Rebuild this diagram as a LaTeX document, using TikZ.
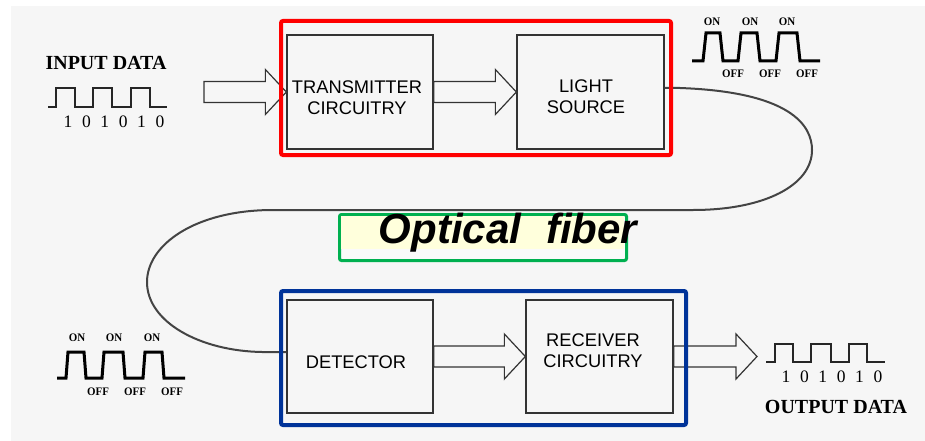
\documentclass[tikz,border=0pt]{standalone}
\usepackage{fontspec}
\setmainfont{Liberation Serif}
\setsansfont{Liberation Sans}
\usetikzlibrary{calc}
\definecolor{bggray}{HTML}{F6F6F6}
\definecolor{boxline}{HTML}{333333}
\definecolor{fibercol}{HTML}{444444}
\definecolor{redframe}{HTML}{FF0000}
\definecolor{blueframe}{HTML}{003399}
\definecolor{greenframe}{HTML}{00B050}
\definecolor{labelyellow}{HTML}{FFFFDC}
\newcommand{\fatarrow}[2]{%
  \draw[arrowline] let \p1=(#1), \p2=(#2) in
    (\x1,\y1+10.5pt) -- (\x2-21pt,\y1+10.5pt) -- (\x2-21pt,\y1+22.5pt) --
    (\x2,\y1) -- (\x2-21pt,\y1-22.5pt) -- (\x2-21pt,\y1-10.5pt) --
    (\x1,\y1-10.5pt) -- cycle;}
\begin{document}
\begin{tikzpicture}[x=1pt,y=-1pt,
  blockbox/.style={draw=boxline, line width=1.3pt, fill=bggray, inner sep=0pt,
    minimum width=146pt, minimum height=114pt},
  blocktext/.style={align=center, inner sep=0pt,
    font=\sffamily\fontsize{18.3}{21}\selectfont},
  arrowline/.style={draw=boxline, line width=1.2pt, fill=bggray, line join=miter},
  frame/.style={line width=4pt, rounded corners=2pt, inner sep=0pt, fill=none},
  thickwave/.style={line width=3pt, black, line join=miter},
  thinwave/.style={line width=1.5pt, black!85},
  onoff/.style={inner sep=0pt, font=\bfseries\fontsize{11.5}{11}\selectfont, xscale=0.95},
  digit/.style={inner sep=0pt, font=\fontsize{17.5}{17}\selectfont},
  datatitle/.style={inner sep=0pt, font=\bfseries\fontsize{20}{20}\selectfont},
  fiber/.style={line width=2pt, fibercol}]
\useasboundingbox (0,0) rectangle (925,441);
\fill[white] (0,0) rectangle (925,441);
\fill[bggray] (11,6) rectangle (925,441);

% blocks
\node[blockbox] (tx) at (360,92) {};
\node[blockbox, minimum width=147pt] (ls) at (590.5,92) {};
\node[blockbox, minimum height=113pt] (det) at (360,356.5) {};
\node[blockbox, minimum width=147pt, minimum height=113pt] (rx) at (599.5,356.5) {};
\node[blocktext] (txl) at (357,97.5) {TRANSMITTER\\CIRCUITRY};
\node[blocktext] (lsl) at (586,97) {LIGHT\\SOURCE};
\node[blocktext] (detl) at (356,362) {DETECTOR};
\node[blocktext] (rxl) at (593,351) {RECEIVER\\CIRCUITRY};

% fat arrows
\coordinate (inA) at (204,92);
\coordinate (outA) at (757,356.5);
\fatarrow{inA}{tx.west}
\fatarrow{tx.east}{ls.west}
\fatarrow{det.east}{rx.west}
\fatarrow{rx.east}{outA}

% optical fiber
\draw[fiber] ([yshift=4pt]ls.east) -- (680,88)
  .. controls (790,92) and (812,125) .. (812,150)
  .. controls (812,185) and (765,210) .. (693,210) -- (273,210)
  .. controls (195,210) and (147,245) .. (147,282)
  .. controls (147,322) and (200,351) .. (262,352) -- ([yshift=4.5pt]det.west);

% frames
\node[frame, draw=redframe, minimum width=390pt, minimum height=134pt] (txframe) at (476,88) {};
\node[frame, draw=blueframe, minimum width=405pt, minimum height=134pt] (rxframe) at (483.5,358) {};
\node[frame, draw=greenframe, line width=3pt, fill=bggray!50!white, minimum width=287pt, minimum height=46pt] (fibframe) at (483,237.5) {};
\fill[labelyellow] (341,216) rectangle (624,249);
\node[inner sep=0pt, font=\sffamily\bfseries\itshape\fontsize{42}{42}\selectfont] (fibl) at (508,233) {Optical\hspace{0.6em}fiber};

% input data
\node[datatitle] (inT) at (106,63) {INPUT DATA};
\draw[thinwave] (48,107) -- (56,107) -- (56,88) -- (75,88) -- (75,107) -- (93,107) -- (93,88)
  -- (112,88) -- (112,107) -- (131,107) -- (131,88) -- (150,88) -- (150,107) -- (167,107);
\foreach \d [count=\i from 0] in {1,0,1,0,1,0}
  \node[digit] (ind\i) at (68+18.4*\i,122) {\d};

% output data
\node[datatitle] (outT) at (836,407) {OUTPUT DATA};
\draw[thinwave] (766,362) -- (775,362) -- (775,344) -- (793,344) -- (793,362) -- (811,362) -- (811,344)
  -- (831,344) -- (831,362) -- (849,362) -- (849,344) -- (867,344) -- (867,362) -- (885,362);
\foreach \d [count=\i from 0] in {1,0,1,0,1,0}
  \node[digit] (outd\i) at (786+18.4*\i,377) {\d};

% light pulses top right
\draw[thickwave] (692,61) -- (703,61) -- (706,33) -- (720,33) -- (723,61) -- (738,61) -- (741,33)
  -- (757,33) -- (760,61) -- (776,61) -- (779,33) -- (797,33) -- (800,61) -- (820,61);
\foreach \x [count=\i] in {712,750,787} \node[onoff] (ton\i) at (\x,22) {ON};
\foreach \x [count=\i] in {733,770,807} \node[onoff] (toff\i) at (\x,74) {OFF};

% light pulses bottom left
\draw[thickwave] (57,378) -- (66,378) -- (68,352) -- (84,352) -- (86,378) -- (102,378) -- (104,352)
  -- (123,352) -- (125,378) -- (143,378) -- (145,352) -- (162,352) -- (164,378) -- (185,378);
\foreach \x [count=\i] in {77,114,152} \node[onoff] (bon\i) at (\x,338) {ON};
\foreach \x [count=\i] in {98,135,172} \node[onoff] (boff\i) at (\x,392) {OFF};
\end{tikzpicture}
\end{document}
